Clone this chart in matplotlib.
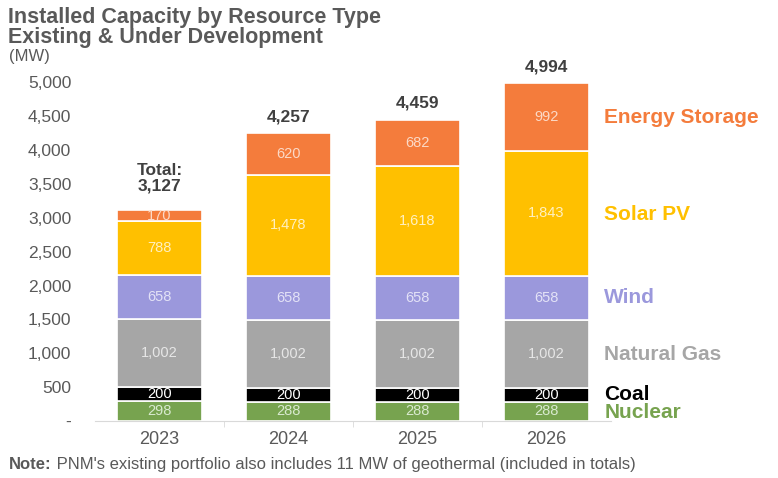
import matplotlib.pyplot as plt
from matplotlib.ticker import FuncFormatter

plt.rcParams['font.family'] = ['Liberation Sans', 'DejaVu Sans']

years = ["2023", "2024", "2025", "2026"]
nuclear = [298, 288, 288, 288]
coal = [200, 200, 200, 200]
natural_gas = [1002, 1002, 1002, 1002]
wind = [658, 658, 658, 658]
solar_pv = [788, 1478, 1618, 1843]
storage = [170, 620, 682, 992]
totals = [3127, 4257, 4459, 4994]

series = [
    ("Nuclear", nuclear, "#77a34f", "#d9ead0"),
    ("Coal", coal, "#000000", "#ffffff"),
    ("Natural Gas", natural_gas, "#a6a6a6", "#e6e6e6"),
    ("Wind", wind, "#9b98dc", "#e3e2f6"),
    ("Solar PV", solar_pv, "#ffc000", "#fff0c0"),
    ("Energy Storage", storage, "#f47c3c", "#fcd9c6"),
]

fig = plt.figure(figsize=(7.78, 4.78), dpi=100)
ax = fig.add_axes([0.122, 0.119, 0.663, 0.709])

x = list(range(len(years)))
bottom = [0] * len(years)
for name, vals, col, lcol in series:
    ax.bar(x, vals, 0.66, bottom=bottom, color=col, edgecolor="white", linewidth=1.2)
    for i, v in enumerate(vals):
        ax.text(x[i], bottom[i] + v / 2, f"{v:,}", ha="center", va="center",
                fontsize=10.5, color=lcol)
    bottom = [b + v for b, v in zip(bottom, vals)]

# totals above bars
for i, t in enumerate(totals):
    if i == 0:
        ax.text(x[i], t + 230, f"Total:\n{t:,}", ha="center", va="bottom", fontsize=12.5,
                fontweight="bold", color="#404040", linespacing=1.05)
    else:
        ax.text(x[i], t + 120, f"{t:,}", ha="center", va="bottom", fontsize=12.5,
                fontweight="bold", color="#404040")

# series names to the right of the last bar
label_y = {"Nuclear": 120, "Coal": 400, "Natural Gas": 980, "Wind": 1830,
           "Solar PV": 3050, "Energy Storage": 4480}
for name, vals, col, lcol in series:
    ax.text(3.45, label_y[name], name, ha="left", va="center", fontsize=15,
            fontweight="bold", color=col, clip_on=False)

ax.set_xlim(-0.5, 3.5)
ax.set_ylim(0, 5000)
ax.set_yticks(range(0, 5001, 500))
ax.yaxis.set_major_formatter(FuncFormatter(lambda v, p: "-" if v == 0 else f"{int(v):,}"))
ax.set_xticks(x)
ax.set_xticklabels(years)
ax.set_xticks([0.5, 1.5, 2.5], minor=True)
ax.tick_params(axis="y", length=0, labelsize=12.5, colors="#595959", pad=17)
ax.tick_params(axis="x", which="major", length=0, labelsize=13, colors="#595959", pad=7)
ax.tick_params(axis="x", which="minor", length=4, color="#d9d9d9")
for s in ["top", "right", "left"]:
    ax.spines[s].set_visible(False)
ax.spines["bottom"].set_color("#d9d9d9")

fig.text(0.01, 0.985, "Installed Capacity by Resource Type\nExisting & Under Development",
         ha="left", va="top", fontsize=15.5, fontweight="bold", color="#595959", linespacing=0.95)
fig.text(0.012, 0.898, "(MW)", ha="left", va="top", fontsize=12, color="#595959")

note = fig.text(0.012, 0.012, "Note:", ha="left", va="bottom", fontsize=12,
                fontweight="bold", color="#595959")
ax.annotate(" PNM's existing portfolio also includes 11 MW of geothermal (included in totals)",
            xy=(1, 0), xycoords=note, ha="left", va="bottom", fontsize=12, color="#595959")

fig.savefig("out.png", dpi=100)
